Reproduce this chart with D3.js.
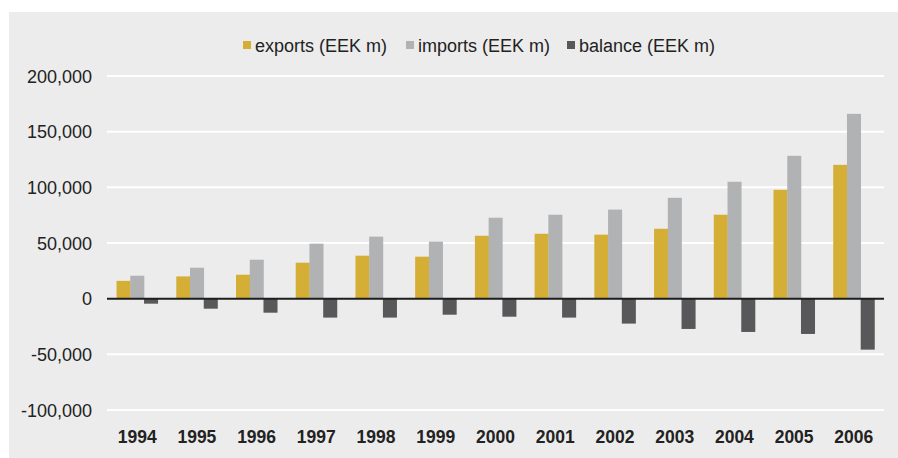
<!DOCTYPE html>
<html><head><meta charset="utf-8">
<script src="https://cdn.jsdelivr.net/npm/d3@7"></script>
<style>body{margin:0;background:#fff;}svg{display:block;}</style>
</head><body>
<svg id="c" width="898" height="458"></svg>
<script>
const years = ["1994","1995","1996","1997","1998","1999","2000","2001","2002","2003","2004","2005","2006"];
const exportsV = [16000,20000,21500,32300,38600,37700,56500,58300,57500,62800,75400,97800,120200];
const importsV = [20600,27800,35000,49400,55700,51200,72700,75400,80000,90600,105000,128300,166000];
const balanceV = [-4500,-9000,-12600,-17000,-17000,-14400,-16200,-17000,-22400,-27200,-29900,-31700,-45800];
const seriesNames = ["exports (EEK m)","imports (EEK m)","balance (EEK m)"];
const yTicks = [-100000,-50000,0,50000,100000,150000,200000];
const colors = ["#d4ae35","#b1b2b3","#58585a"];

const svg = d3.select("#c");
svg.append("rect").attr("x",9).attr("y",12).attr("width",889).attr("height",446).attr("fill","#ececec");

const x0 = d3.scaleBand().domain(years).range([107,884]).paddingInner(0.31).paddingOuter(0.16);
const x1 = d3.scaleBand().domain([0,1,2]).range([0,x0.bandwidth()]);
const y = d3.scaleLinear().domain([-100000,200000]).range([410,76]);

// gridlines
const fmt = d => d3.format(",")(d).replace("\u2212","-");
const yAxis = d3.axisLeft(y).tickValues(yTicks).tickSize(0).tickPadding(0).tickFormat(fmt);
svg.append("g").selectAll("line").data(yTicks.filter(d=>d!==0)).join("line")
  .attr("x1",107).attr("x2",884).attr("y1",d=>y(d)).attr("y2",d=>y(d))
  .attr("stroke","#ffffff").attr("stroke-width",2);

const ga = svg.append("g").attr("transform","translate(92,0)").call(yAxis);
ga.select(".domain").remove();
ga.selectAll("text").attr("font-family","Liberation Sans, Arial, sans-serif").attr("font-size",18).attr("fill","#222").attr("dy","0.35em");

const data = years.map((yr,i)=>({yr, vals:[exportsV[i],importsV[i],balanceV[i]]}));
const g = svg.append("g");
g.selectAll("g").data(data).join("g").attr("transform",d=>`translate(${x0(d.yr)},0)`)
  .selectAll("rect").data(d=>d.vals.map((v,k)=>({v,k}))).join("rect")
  .attr("x",d=>x1(d.k)).attr("width",x1.bandwidth()+0.3)
  .attr("y",d=>y(Math.max(0,d.v))).attr("height",d=>Math.abs(y(d.v)-y(0)))
  .attr("fill",d=>colors[d.k]);

svg.append("line").attr("x1",107).attr("x2",884).attr("y1",y(0)).attr("y2",y(0)).attr("stroke","#1e1e1e").attr("stroke-width",2);

const xAxis = d3.axisBottom(x0).tickSize(0).tickPadding(0);
const gx = svg.append("g").attr("transform","translate(0,437)").call(xAxis);
gx.select(".domain").remove();
gx.selectAll("text").attr("font-family","Liberation Sans, Arial, sans-serif").attr("font-size",17.5).attr("font-weight","bold").attr("fill","#222").attr("dy","0.35em");

// legend
const legX = [243,406,567];
const leg = svg.append("g");
seriesNames.forEach((n,i)=>{
  leg.append("rect").attr("x",legX[i]).attr("y",41).attr("width",8).attr("height",8).attr("fill",colors[i]);
  leg.append("text").attr("x",legX[i]+12).attr("y",46).attr("dy","0.35em").attr("font-family","Liberation Sans, Arial, sans-serif").attr("font-size",18).attr("fill","#222").text(n);
});
</script>
</body></html>
